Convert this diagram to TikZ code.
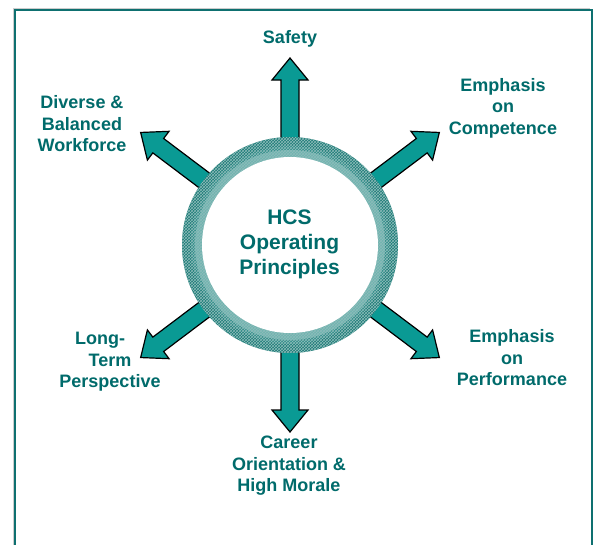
\documentclass[tikz,border=0pt]{standalone}
\usepackage{fontspec}
\setmainfont{Liberation Sans}
\usetikzlibrary{patterns}
\definecolor{txtteal}{HTML}{006B6B}
\definecolor{frameteal}{HTML}{0E7070}
\definecolor{arrowfill}{HTML}{0A9A94}
\definecolor{ringdark}{HTML}{1B7A76}
\definecolor{ringmid}{HTML}{2F8C88}
\definecolor{ringlight}{HTML}{6FB3AF}
\tikzset{
  lbl/.style={text=txtteal, align=center, font=\bfseries\fontsize{18}{21.5}\selectfont, inner sep=0pt},
  hubtext/.style={text=txtteal, align=center, font=\bfseries\fontsize{21}{25}\selectfont, inner sep=0pt},
  blockarrow/.style={fill=arrowfill, draw=black, line width=1.2pt, line join=miter},
  framestyle/.style={draw=frameteal, line width=2pt}
}
\newcommand{\blockarrowat}[2]{%
  \begin{scope}[shift={(hubc)}, rotate=#1]
    \draw[blockarrow] (92,-9) -- (165,-9) -- (165,-18) -- (187,0) -- (165,18) -- (165,9) -- (92,9) -- cycle;
    \coordinate (#2) at (187,0);
  \end{scope}}
\begin{document}
\begin{tikzpicture}[x=1pt,y=-1pt]
\useasboundingbox (0,0) rectangle (597,544);
\fill[white] (0,0) rectangle (597,544);
% frame
\draw[gray!40, line width=1pt] (13,550) -- (13,8) -- (590,8);
\draw[framestyle] (15,550) -- (15,10) -- (592,10) -- (592,550);
\coordinate (hubc) at (290,245);
% arrows
\blockarrowat{90}{tipN}
\blockarrowat{37}{tipNE}
\blockarrowat{-37}{tipSE}
\blockarrowat{-90}{tipS}
\blockarrowat{-143}{tipSW}
\blockarrowat{143}{tipNW}
% ring
\fill[ringdark] (hubc) circle (108);
\fill[ringmid] (hubc) circle (99);
\fill[ringlight] (hubc) circle (95);
\fill[pattern=crosshatch, pattern color=white!50!ringdark, even odd rule] (hubc) circle (108) (hubc) circle (88);
\node[circle, fill=white, minimum size=176pt, inner sep=0pt] (hub) at (hubc) {};
\node[hubtext] (hubt) at (289.5,244) {HCS\\Operating\\Principles};
% labels
\node[lbl] (safety) at (290,39) {Safety};
\node[lbl] (competence) at (503,108) {Emphasis\\on\\Competence};
\node[lbl] (performance) at (512,358) {Emphasis\\on\\Performance};
\node[lbl] (career) at (289,466) {Career\\Orientation \&\\High Morale};
\node[lbl] (longterm) at (110,362) {Long-\hspace*{20pt}\\Term\hspace*{20pt}\\Perspective};
\node[lbl] (diverse) at (82,124) {Diverse \&\\Balanced\\Workforce};
\end{tikzpicture}
\end{document}
